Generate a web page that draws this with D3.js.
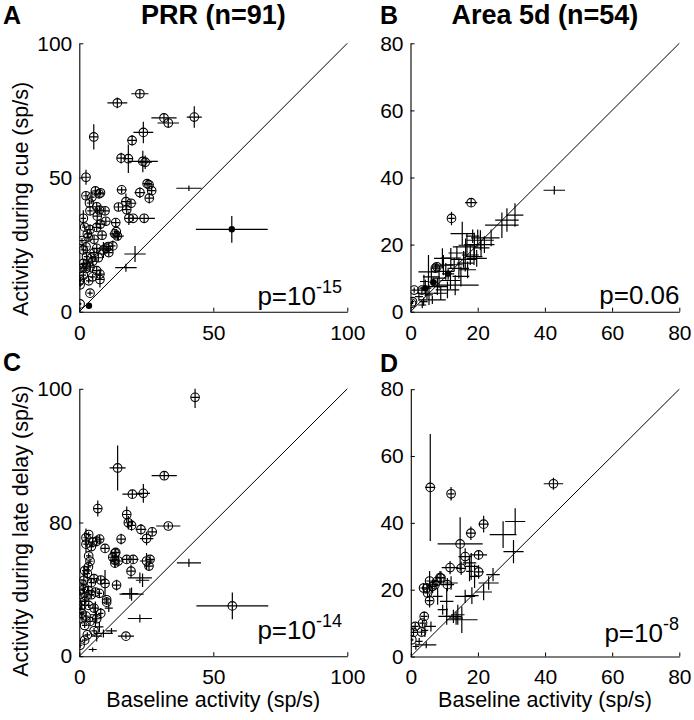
<!DOCTYPE html>
<html>
<head>
<meta charset="utf-8">
<script src="https://cdn.jsdelivr.net/npm/d3@7"></script>
<style>
  html, body { margin: 0; padding: 0; background: #fff; }
  svg { display: block; }
  text { font-family: "Liberation Sans", Arial, Helvetica, sans-serif; fill: #000; }
</style>
</head>
<body>
<svg id="chart" width="694" height="720"></svg>
<script>
// ---------- DATA: [baseline, activity, baselineErr, activityErr, marker] ----------
// marker: 'o' = open circle (significant), '+' = error cross only, '.' = filled dot
const prrCue = [
  [22.6,81.2,3.2,1.8,'o'],[14.2,77.8,3.7,2.0,'o'],[31.6,72.2,4.7,1.5,'o'],[33.2,70.3,4.0,1.8,'o'],
  [42.9,72.5,2.8,4.0,'o'],[5.4,65.1,1.5,4.7,'o'],[23.9,66.8,3.7,4.0,'o'],[19.7,63.8,1.8,2.0,'o'],
  [15.6,57.2,1.6,2.0,'o'],[18.3,57.0,1.8,5.3,'o'],[23.7,56.0,5.6,4.0,'o'],[24.6,55.7,2.5,2.5,'o'],
  [2.5,50.1,1.5,2.8,'o'],[40.9,46.0,4.7,1.0,'+'],[56.9,30.7,13.4,5.0,'.'],[20.8,21.5,4.0,3.0,'+'],
  [17.4,16.4,4.0,1.5,'+'],[3.6,2.2,1.0,1.0,'.'],[0.3,2.9,0.5,0.5,'o'],[4.0,6.9,1.0,1.0,'o'],
  [15.8,45.4,1.8,1.2,'o'],[22.6,44.4,2.0,2.0,'o'],[26.0,47.3,1.8,1.5,'o'],[25.3,47.7,1.5,1.5,'o'],
  [27.0,45.1,1.5,1.5,'o'],[26.1,42.3,1.5,2.0,'o'],[17.4,41.0,1.8,3.0,'o'],[19.3,40.4,2.0,1.5,'o'],
  [14.6,39.0,1.5,1.5,'o'],[17.7,38.0,1.5,2.0,'o'],[18.5,34.8,1.5,2.5,'o'],[20.1,34.8,1.5,1.0,'o'],
  [24.2,34.8,4.0,1.5,'o'],[13.6,33.2,1.5,1.5,'o'],[13.3,29.0,2.0,1.5,'o'],[14.2,28.2,2.5,1.5,'o'],
  [10.0,23.7,1.5,1.5,'o'],[9.0,23.0,1.5,3.0,'o'],[10.8,24.3,1.5,1.5,'o'],
  [2.5,43.2,1.0,1.5,'o'],[4.7,42.7,1.0,2.5,'o'],[7.4,43.9,1.5,1.5,'o'],[7.9,44.3,1.0,1.0,'o'],
  [1.5,34.8,1.0,3.0,'o'],[4.0,37.6,1.0,1.5,'o'],[6.5,39.1,1.5,1.5,'o'],[7.5,37.9,1.5,1.5,'o'],
  [9.6,37.6,1.5,1.5,'o'],[6.7,35.6,1.5,3.0,'o'],[9.9,33.7,1.5,1.5,'o'],[4.0,30.6,1.0,2.0,'o'],
  [3.0,29.0,1.0,1.5,'o'],[3.3,27.8,1.0,1.5,'o'],[6.5,31.4,1.5,1.5,'o'],[7.8,32.6,1.5,1.5,'o'],
  [2.5,24.2,1.0,1.5,'o'],[1.5,23.0,1.0,1.5,'o'],[6.5,23.6,1.5,1.5,'o'],[5.5,22.0,1.5,1.5,'o'],
  [2.7,20.5,1.0,1.5,'o'],[1.5,18.0,1.0,1.5,'o'],[2.7,17.0,1.0,1.5,'o'],[5.0,18.8,1.5,1.5,'o'],
  [7.1,20.1,1.5,1.5,'o'],[4.0,16.6,1.5,1.5,'o'],[0.3,16.1,0.8,1.0,'o'],[2.5,16.1,1.0,1.0,'o'],
  [1.5,13.6,1.0,1.5,'o'],[7.7,14.0,1.5,1.5,'o'],[0.3,11.9,0.5,1.0,'o'],[0.0,11.3,0.5,1.0,'o'],
  [6.5,15.3,1.5,1.5,'o'],[5.0,13.0,1.0,1.0,'o'],[3.5,11.5,1.0,1.0,'o'],[7.7,12.0,1.5,3.0,'o'],
  [11.0,22.0,1.5,1.5,'o'],[12.5,24.5,1.0,2.0,'o'],[3.8,40.5,1.0,1.0,'o'],[5.5,27.0,1.5,1.5,'o'],
  [8.5,28.5,1.5,1.5,'o'],[2.0,31.5,1.0,1.0,'o'],[6.0,45.0,1.0,1.5,'o'],[4.5,20.0,1.0,1.0,'o'],
  [1.0,26.5,1.0,1.0,'o'],[0.3,10.0,0.5,1.0,'o'],[13.8,29.8,1.0,1.0,'o'],[14.6,28.0,1.5,1.5,'+']
];
const area5dCue = [
  [18.05,32.5,1.8,1.2,'o'],[12.2,27.8,1.0,2.0,'o'],[42.8,36.2,3.2,1.3,'+'],[28.7,27.3,3.5,3.5,'+'],
  [31.1,28.8,2.5,3.5,'+'],[27.2,25.8,5.0,3.8,'+'],[15.4,23.3,3.5,3.5,'+'],[20.8,21.3,4.0,3.0,'+'],
  [19.0,20.0,3.0,3.5,'+'],[22.0,20.0,3.0,2.5,'+'],[16.8,19.8,2.5,3.5,'+'],[16.4,19.3,3.8,2.5,'+'],
  [17.8,16.9,2.5,3.0,'+'],[19.7,15.9,3.0,2.5,'+'],[18.9,16.4,2.5,2.5,'+'],[15.8,15.6,3.8,2.5,'+'],
  [16.3,14.5,2.5,2.5,'+'],[14.4,12.9,3.0,3.0,'+'],[7.85,13.4,1.2,1.2,'o'],[7.4,13.0,1.2,1.2,'o'],
  [9.8,13.9,3.0,3.0,'+'],[9.5,15.9,2.5,3.0,'+'],[11.2,11.3,1.8,1.8,'.'],[5.35,11.9,3.0,5.0,'+'],
  [13.3,7.9,7.0,3.0,'+'],[11.9,9.3,3.0,2.5,'+'],[6.2,10.4,2.5,2.5,'+'],[4.4,7.0,1.8,2.5,'.'],
  [1.1,6.45,0.8,0.8,'o'],[3.4,6.45,1.0,1.0,'o'],[4.9,5.5,3.0,1.8,'+'],[3.9,3.0,1.2,1.2,'+'],
  [0.6,3.0,0.5,0.5,'o'],[0.3,2.5,0.5,0.5,'o'],[6.5,3.5,4.0,1.2,'+'],[8.0,7.5,3.0,2.5,'+'],
  [10.5,12.0,2.5,2.5,'+'],[12.0,16.0,3.0,3.0,'+'],[21.0,19.0,2.5,2.5,'+'],[20.0,22.0,2.0,2.5,'+'],
  [5.5,5.0,1.2,3.0,'+'],[3.5,2.0,1.2,1.0,'+'],[13.0,14.0,2.5,2.0,'+'],[17.0,12.5,2.5,2.5,'+'],
  [8.5,10.0,2.0,3.0,'+'],[2.5,4.5,1.2,1.2,'+'],[24.0,22.0,2.5,2.5,'+'],[6.8,8.8,1.2,1.2,'.'],
  [15.0,10.5,2.5,3.0,'+'],[11.0,6.5,3.5,2.5,'+'],[18.5,22.5,2.0,2.0,'+'],[4.0,9.0,1.2,2.0,'+'],
  [9.0,5.5,2.0,2.0,'+'],[13.8,17.5,2.5,2.0,'+']
];
const prrDelay = [
  [43.2,96.8,1.5,4.0,'o'],[14.3,70.4,3.0,8.4,'o'],[31.7,67.5,4.7,1.5,'o'],[19.8,60.6,3.7,1.5,'o'],
  [23.9,60.9,2.5,3.5,'o'],[6.9,55.2,1.5,3.0,'o'],[17.7,53.0,1.5,3.0,'o'],[18.3,49.9,1.5,2.5,'o'],
  [19.5,48.9,1.5,2.0,'o'],[33.2,48.7,4.5,1.0,'o'],[23.0,47.4,2.0,2.0,'o'],[27.2,46.5,1.5,1.5,'o'],
  [25.1,44.0,2.5,2.5,'o'],[15.6,43.8,1.5,2.0,'o'],[2.5,44.3,1.0,3.5,'o'],[2.5,41.9,1.0,3.0,'o'],
  [5.0,42.7,1.0,2.0,'o'],[6.5,43.0,1.5,2.0,'o'],[7.6,43.8,1.5,1.5,'o'],[9.6,40.3,1.5,1.5,'o'],
  [13.6,38.8,1.5,1.5,'o'],[13.3,35.9,1.5,2.5,'o'],[14.5,35.6,2.0,2.0,'o'],[17.7,36.2,2.0,1.5,'o'],
  [20.1,36.2,2.0,1.5,'o'],[19.3,31.8,1.5,2.5,'o'],[25.1,35.6,2.5,3.0,'o'],[26.4,36.2,1.5,1.5,'o'],
  [26.0,33.7,1.5,1.5,'o'],[40.9,34.9,4.5,1.5,'+'],[22.6,29.3,4.5,2.0,'+'],[23.6,28.4,2.5,2.5,'+'],
  [3.4,33.4,1.0,1.5,'o'],[3.0,30.9,1.0,2.0,'o'],[1.7,28.4,1.0,5.0,'o'],[9.6,27.2,1.5,5.0,'o'],
  [13.9,26.6,1.5,2.0,'o'],[19.5,23.2,4.5,2.5,'+'],[10.2,21.1,1.0,1.0,'o'],[10.2,20.2,1.0,1.0,'o'],
  [0.3,23.2,1.0,1.0,'o'],[0.9,19.1,1.0,1.5,'o'],[57.1,18.8,13.4,5.0,'o'],[22.6,14.1,4.5,1.5,'+'],
  [17.4,7.5,3.0,1.0,'o'],[0.3,4.1,0.8,1.0,'o'],[5.0,2.5,1.5,0.8,'+'],
  [1.5,25.0,1.0,1.5,'o'],[2.5,22.5,1.0,1.5,'o'],[3.5,24.5,1.0,1.5,'o'],[4.5,23.0,1.0,1.5,'o'],
  [6.0,24.0,1.5,1.5,'o'],[7.5,23.5,1.0,1.5,'o'],[2.0,20.5,1.0,1.5,'o'],[3.5,19.0,1.0,1.0,'o'],
  [5.5,18.0,1.5,1.5,'o'],[1.0,16.0,1.0,1.0,'o'],[2.5,15.0,1.0,1.5,'o'],[4.0,13.0,1.0,1.5,'o'],
  [6.5,14.0,1.5,1.5,'o'],[7.5,11.0,1.5,2.0,'+'],[2.0,11.5,1.0,1.0,'o'],[5.5,9.5,1.0,1.0,'o'],
  [3.0,8.0,1.0,1.0,'o'],[6.5,7.5,2.0,2.0,'+'],[9.0,8.5,3.5,1.5,'+'],[12.0,9.5,2.0,1.0,'+'],
  [1.0,27.0,1.0,1.0,'o'],[4.5,27.5,1.0,1.5,'o'],[3.5,37.5,1.0,1.0,'o'],[4.0,35.5,1.0,1.0,'o'],
  [2.0,32.0,1.0,2.0,'o'],[5.5,29.0,1.5,1.5,'o'],[8.0,28.5,1.5,1.5,'o'],[12.5,37.0,1.5,1.5,'o'],
  [6.0,15.5,2.0,5.0,'+'],[8.0,16.0,1.0,2.0,'o'],[11.0,18.0,1.5,1.5,'+'],[3.5,45.5,1.0,1.0,'o'],
  [1.0,14.0,0.8,1.0,'o'],[0.5,18.0,0.8,1.0,'o'],[2.0,6.0,1.0,1.0,'o'],[13.3,38.5,1.0,1.5,'o'],
  [13.3,34.8,1.0,1.5,'o'],[18.9,23.4,3.0,2.0,'+'],[4.5,41.0,1.0,1.5,'o']
];
const area5dDelay = [
  [5.8,50.6,1.5,16.0,'o'],[12.0,48.7,1.0,2.0,'o'],[42.5,51.7,2.9,1.8,'o'],[21.7,39.6,1.5,2.5,'o'],
  [17.9,36.9,1.5,2.0,'o'],[27.5,36.5,4.0,4.0,'+'],[31.1,40.4,3.0,4.0,'+'],[30.6,31.4,3.0,3.5,'+'],
  [14.7,33.7,6.7,8.0,'o'],[16.2,29.9,2.0,2.5,'o'],[20.2,30.4,2.5,1.5,'o'],[11.7,26.6,2.5,2.0,'o'],
  [15.0,26.4,1.5,2.0,'o'],[20.2,25.3,1.5,2.0,'o'],[18.0,27.0,2.0,4.0,'+'],[17.5,25.5,1.0,3.0,'+'],
  [8.7,23.6,1.5,2.0,'o'],[10.9,21.5,2.0,2.0,'o'],[7.2,21.5,1.0,1.5,'o'],[7.8,22.5,1.0,1.5,'o'],
  [5.6,22.6,1.0,3.0,'o'],[3.8,20.5,1.0,1.5,'o'],[4.8,20.5,1.5,1.5,'o'],[5.6,16.7,1.0,2.0,'o'],
  [23.2,22.0,3.0,2.0,'+'],[21.7,19.3,2.5,2.5,'+'],[16.2,18.0,3.0,2.0,'+'],[18.2,18.2,2.0,2.5,'+'],
  [10.7,16.5,2.0,4.0,'+'],[10.7,12.0,2.5,2.5,'+'],[12.7,12.0,2.5,2.0,'+'],[15.2,11.0,4.7,4.0,'+'],
  [4.0,12.0,1.0,1.5,'o'],[1.3,9.0,1.0,1.0,'o'],[0.8,7.2,1.0,1.0,'o'],[4.2,7.8,1.0,2.0,'+'],
  [3.2,7.3,1.0,1.0,'o'],[0.3,5.0,0.5,0.5,'o'],[4.6,3.5,3.0,1.0,'+'],[9.0,23.5,1.0,2.0,'o'],
  [6.5,21.0,1.0,2.0,'o'],[12.0,22.0,2.0,2.0,'+'],[14.0,12.5,2.0,3.0,'+'],[17.5,28.0,2.0,2.0,'+'],
  [19.0,24.0,1.5,3.5,'+'],[8.0,18.0,1.5,2.5,'+'],[13.5,11.5,2.0,2.0,'+'],[2.5,4.5,1.0,1.0,'+'],
  [24.5,24.5,2.0,2.0,'+'],[5.0,19.0,1.0,1.5,'o'],[3.5,10.0,1.0,1.0,'o'],[9.5,14.0,1.5,1.5,'+'],
  [1.5,3.0,1.0,1.0,'+'],[6.0,9.0,1.5,1.5,'+']
];
const prrTicks = [0, 50, 100];
const prrXTickLabels = ["0", "50", "100"];
const prrCueYTickLabels = ["0", "50", "100"];
const prrDelayYTickLabels = ["0", "80", "100"];
const area5dTicks = [0, 20, 40, 60, 80];
const area5dTickLabels = ["0", "20", "40", "60", "80"];

// ---------- LAYOUT ----------
const svg = d3.select("#chart");
const FONT = '"Liberation Sans", Arial, Helvetica, sans-serif';

const panels = [
  { data: prrCue, max: 100, ticks: prrTicks, xLabels: prrXTickLabels, yLabels: prrCueYTickLabels,
    x0: 79.3, x1: 347.3, y0: 311.7, y1: 43.3, letter: "A", lx: 3, ly: 24,
    title: "PRR (n=91)", p: ["p=10", "-15"], px: 342, py: 305,
    ylab: "Activity during cue (sp/s)", ylx: 28, yly: 199, xlab: null },
  { data: area5dCue, max: 80, ticks: area5dTicks, xLabels: area5dTickLabels, yLabels: area5dTickLabels,
    x0: 410.5, x1: 679.3, y0: 311.7, y1: 43.3, letter: "B", lx: 380, ly: 24,
    title: "Area 5d (n=54)", p: ["p=0.06", null], px: 679.5, py: 303.5, ylab: null, xlab: null },
  { data: prrDelay, max: 100, ticks: prrTicks, xLabels: prrXTickLabels, yLabels: prrDelayYTickLabels,
    x0: 79.3, x1: 347.3, y0: 656.2, y1: 388.8, letter: "C", lx: 3, ly: 371,
    title: null, p: ["p=10", "-14"], px: 342, py: 638.5,
    ylab: "Activity during late delay (sp/s)", ylx: 28, yly: 531, xlab: "Baseline activity (sp/s)", xly: 707 },
  { data: area5dDelay, max: 80, ticks: area5dTicks, xLabels: area5dTickLabels, yLabels: area5dTickLabels,
    x0: 410.8, x1: 679.3, y0: 656.5, y1: 389.2, letter: "D", lx: 380, ly: 372,
    title: null, p: ["p=10", "-8"], px: 679, py: 641.5, ylab: null, xlab: "Baseline activity (sp/s)", xly: 707 }
];

panels.forEach((P, pi) => {
  const x = d3.scaleLinear().domain([0, P.max]).range([P.x0, P.x1]);
  const y = d3.scaleLinear().domain([0, P.max]).range([P.y0, P.y1]);
  const g = svg.append("g");

  const cid = "clip" + pi;
  svg.append("clipPath").attr("id", cid).append("rect")
    .attr("x", P.x0).attr("y", P.y1).attr("width", P.x1 - P.x0).attr("height", P.y0 - P.y1);

  // unity line
  g.append("line")
    .attr("x1", x(0)).attr("y1", y(0)).attr("x2", x(P.max)).attr("y2", y(P.max))
    .attr("stroke", "#000").attr("stroke-width", 1);

  // axes
  const xAxis = d3.axisBottom(x).tickValues(P.ticks).tickSize(-4).tickSizeOuter(0).tickPadding(13)
    .tickFormat((d, i) => P.xLabels[i]);
  const yAxis = d3.axisLeft(y).tickValues(P.ticks).tickSize(-4).tickSizeOuter(0).tickPadding(7)
    .tickFormat((d, i) => P.yLabels[i]);
  const gx = g.append("g").attr("transform", `translate(0,${P.y0})`).call(xAxis);
  const gy = g.append("g").attr("transform", `translate(${P.x0},0)`).call(yAxis);
  [gx, gy].forEach(a => {
    a.select(".domain").attr("stroke", "#000").attr("stroke-width", 1.1);
    a.selectAll(".tick line").attr("stroke", "#000").attr("stroke-width", 1);
    a.selectAll(".tick text").attr("font-family", FONT).attr("font-size", 21).attr("fill", "#000");
  });

  // points
  const marks = g.append("g").attr("clip-path", `url(#${cid})`);
  const pts = marks.selectAll("g.pt").data(P.data).join("g").attr("class", "pt");
  pts.append("line")
    .attr("x1", d => x(d[0] - d[2])).attr("x2", d => x(d[0] + d[2]))
    .attr("y1", d => y(d[1])).attr("y2", d => y(d[1]))
    .attr("stroke", "#000").attr("stroke-width", 1.2);
  pts.append("line")
    .attr("x1", d => x(d[0])).attr("x2", d => x(d[0]))
    .attr("y1", d => y(d[1] - d[3])).attr("y2", d => y(d[1] + d[3]))
    .attr("stroke", "#000").attr("stroke-width", 1.2);
  pts.filter(d => d[4] === 'o').append("circle")
    .attr("cx", d => x(d[0])).attr("cy", d => y(d[1])).attr("r", 4.3)
    .attr("fill", "none").attr("stroke", "#000").attr("stroke-width", 1.1);
  pts.filter(d => d[4] === '.').append("circle")
    .attr("cx", d => x(d[0])).attr("cy", d => y(d[1])).attr("r", 3.2)
    .attr("fill", "#000").attr("stroke", "none");

  // panel letter
  svg.append("text").attr("x", P.lx).attr("y", P.ly).attr("font-family", FONT)
    .attr("font-weight", "bold").attr("font-size", 25).text(P.letter);
  // title
  if (P.title) {
    svg.append("text").attr("x", (P.x0 + P.x1) / 2).attr("y", 24).attr("text-anchor", "middle")
      .attr("font-family", FONT).attr("font-weight", "bold").attr("font-size", 27).text(P.title);
  }
  // p-value
  const pt = svg.append("text").attr("x", P.px).attr("y", P.py).attr("text-anchor", "end")
    .attr("font-family", FONT).attr("font-size", 26);
  pt.append("tspan").text(P.p[0]);
  if (P.p[1]) pt.append("tspan").attr("dy", -12).attr("font-size", 18).text(P.p[1]);

  // axis labels
  if (P.ylab) {
    svg.append("text").attr("transform", `translate(${P.ylx},${P.yly}) rotate(-90)`)
      .attr("text-anchor", "middle").attr("font-family", FONT).attr("font-size", 21.5).text(P.ylab);
  }
  if (P.xlab) {
    svg.append("text").attr("x", (P.x0 + P.x1) / 2).attr("y", P.xly).attr("text-anchor", "middle")
      .attr("font-family", FONT).attr("font-size", 21.5).text(P.xlab);
  }
});
</script>
</body>
</html>
